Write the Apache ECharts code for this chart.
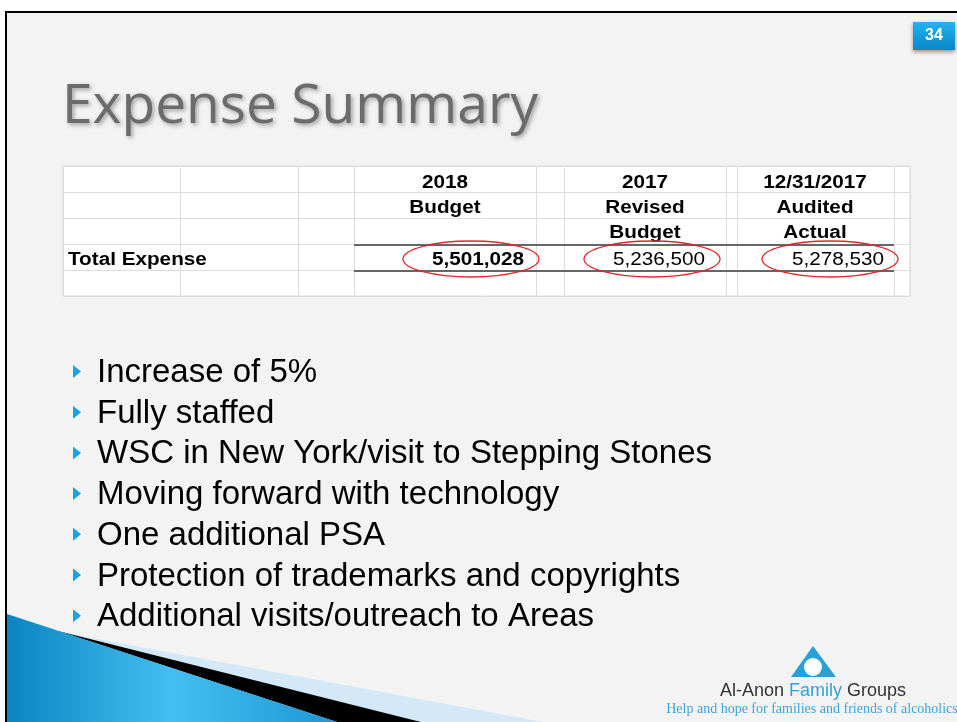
<!DOCTYPE html>
<html>
<head>
<meta charset="utf-8">
<script src="https://cdn.jsdelivr.net/npm/echarts@6/dist/echarts.min.js"></script>
<style>
  html, body { margin: 0; padding: 0; background: #fff; }
  #main { width: 957px; height: 722px; }
</style>
</head>
<body>
<div id="main"></div>
<script>
// slide data
var slideTitle = 'Expense Summary'
var slideNumber = '34'
var colHeaders = [
  ['2018', 'Budget'],
  ['2017', 'Revised', 'Budget'],
  ['12/31/2017', 'Audited', 'Actual']
]
var rowLabel = 'Total Expense'
var totals = [5501028, 5236500, 5278530]
var bullets = [
  'Increase of 5%',
  'Fully staffed',
  'WSC in New York/visit to Stepping Stones',
  'Moving forward with technology',
  'One additional PSA',
  'Protection of trademarks and copyrights',
  'Additional visits/outreach to Areas'
]

// layout
var gridX = [63, 180, 298, 354, 536, 564, 726, 737, 894, 910]
var gridY = [166, 192, 218, 244, 270, 296]
var headCenterX = [445, 645, 815]
var valueRightX = [524, 705, 884]
var ovalCenterX = [471, 652, 830]
var headRowY = [183.5, 208.5, 233.5]
var valueRowY = 260
var bulletTop = 371
var bulletStep = 40.7
var tableFont = '18px "Liberation Sans", Arial, sans-serif'
var stretch = 1.15

var els = []

function cellText(x, y, t, align, bold) {
  return { type: 'text', x: x, y: y, scaleX: stretch,
    style: { x: 0, y: 0, text: t, fill: '#000', font: (bold ? 'bold ' : '') + tableFont,
      textAlign: align, align: align, textVerticalAlign: 'middle', verticalAlign: 'middle' } }
}

// slide background + frame
els.push({ type: 'rect', shape: { x: 6, y: 12, width: 957, height: 722 },
  style: { fill: '#f3f3f3', stroke: '#000', lineWidth: 2 } })

// bottom-left wedge
els.push({ type: 'polygon', shape: { points: [[60, 632], [543, 722], [421, 722]] },
  style: { fill: '#d4e9f8' } })
els.push({ type: 'polygon', shape: { points: [[58, 631], [421, 722], [337, 722]] },
  style: { fill: '#000' } })
els.push({ type: 'polygon', shape: { points: [[7, 614], [337, 722], [7, 722]] },
  style: { fill: { type: 'linear', x: 0, y: 0, x2: 1, y2: 0, colorStops: [
    { offset: 0, color: '#0b84c2' }, { offset: 0.5, color: '#45bff0' }, { offset: 1, color: '#1d97d4' }] } } })

// title
els.push({ type: 'text', x: 62, y: 108, scaleX: 1.02,
  style: { x: 0, y: 0, text: slideTitle, fill: '#6b6b6b',
  font: '54px "Open Sans", sans-serif', textVerticalAlign: 'middle', verticalAlign: 'middle',
  textShadowBlur: 4, textShadowColor: 'rgba(0,0,0,0.35)', textShadowOffsetX: 2, textShadowOffsetY: 2 } })

// slide number badge
els.push({ type: 'rect', shape: { x: 913, y: 22, width: 42, height: 28 },
  style: { fill: { type: 'linear', x: 0, y: 0, x2: 0, y2: 1, colorStops: [
    { offset: 0, color: '#22b4ee' }, { offset: 1, color: '#0a86c9' }] },
    shadowBlur: 4, shadowColor: 'rgba(0,0,0,0.4)', shadowOffsetY: 2 } })
els.push({ type: 'text', style: { x: 934, y: 36, text: slideNumber, fill: '#fff',
  font: 'bold 16px "Liberation Sans", Arial, sans-serif', textAlign: 'center', align: 'center',
  textVerticalAlign: 'middle', verticalAlign: 'middle' } })

// table
els.push({ type: 'rect', shape: { x: gridX[0], y: gridY[0], width: gridX[gridX.length - 1] - gridX[0], height: gridY[gridY.length - 1] - gridY[0] },
  style: { fill: '#fff', stroke: '#dadada', lineWidth: 1 } })
gridX.forEach(function (x) {
  els.push({ type: 'line', shape: { x1: x + 0.5, y1: gridY[0], x2: x + 0.5, y2: gridY[gridY.length - 1] },
    style: { stroke: '#dcdcdc', lineWidth: 1 } })
})
gridY.forEach(function (y) {
  els.push({ type: 'line', shape: { x1: gridX[0], y1: y + 0.5, x2: gridX[gridX.length - 1], y2: y + 0.5 },
    style: { stroke: '#dcdcdc', lineWidth: 1 } })
})
;[gridY[3], gridY[4]].forEach(function (y) {
  els.push({ type: 'line', shape: { x1: gridX[3], y1: y + 1, x2: gridX[8], y2: y + 1 },
    style: { stroke: '#666', lineWidth: 2 } })
})
colHeaders.forEach(function (lines, i) {
  lines.forEach(function (t, j) {
    els.push(cellText(headCenterX[i], headRowY[j], t, 'center', true))
  })
})
els.push(cellText(68, valueRowY, rowLabel, 'left', true))
totals.forEach(function (v, i) {
  els.push(cellText(valueRightX[i], valueRowY, v.toLocaleString('en-US'), 'right', i === 0))
  els.push({ type: 'ellipse', shape: { cx: ovalCenterX[i], cy: 259, rx: 68, ry: 18 },
    style: { fill: 'none', stroke: '#e3262b', lineWidth: 1.3 } })
})

// bullets
bullets.forEach(function (t, i) {
  var y = bulletTop + i * bulletStep
  els.push({ type: 'polygon', shape: { points: [[73, y - 6], [73, y + 7], [81, y + 0.5]] },
    style: { fill: '#1aa3e0' } })
  els.push({ type: 'text', style: { x: 97, y: y + 2, text: t, fill: '#000',
    font: '33px "Liberation Sans", Arial, sans-serif', textVerticalAlign: 'middle', verticalAlign: 'middle' } })
})

// logo
els.push({ type: 'polygon', shape: { points: [[813, 646], [791, 677], [836, 677]] },
  style: { fill: '#27a1d8' } })
els.push({ type: 'circle', shape: { cx: 813, cy: 667, r: 9 }, style: { fill: '#fff' } })
els.push({ type: 'text', style: { x: 813, y: 691, text: '{a|Al-Anon }{b|Family}{a| Groups}',
  textAlign: 'center', align: 'center', textVerticalAlign: 'middle', verticalAlign: 'middle',
  rich: {
    a: { fill: '#333', fontSize: 18, fontFamily: '"Liberation Sans", sans-serif' },
    b: { fill: '#2aa5dc', fontSize: 18, fontFamily: '"Liberation Sans", sans-serif' }
  } } })
els.push({ type: 'text', style: { x: 812, y: 709, text: 'Help and hope for families and friends of alcoholics',
  fill: '#3aa6da', font: '14px "Liberation Serif", serif', textAlign: 'center', align: 'center',
  textVerticalAlign: 'middle', verticalAlign: 'middle' } })

var chart = echarts.init(document.getElementById('main'))
chart.setOption({
  animation: false,
  graphic: { elements: els }
})
</script>
</body>
</html>
